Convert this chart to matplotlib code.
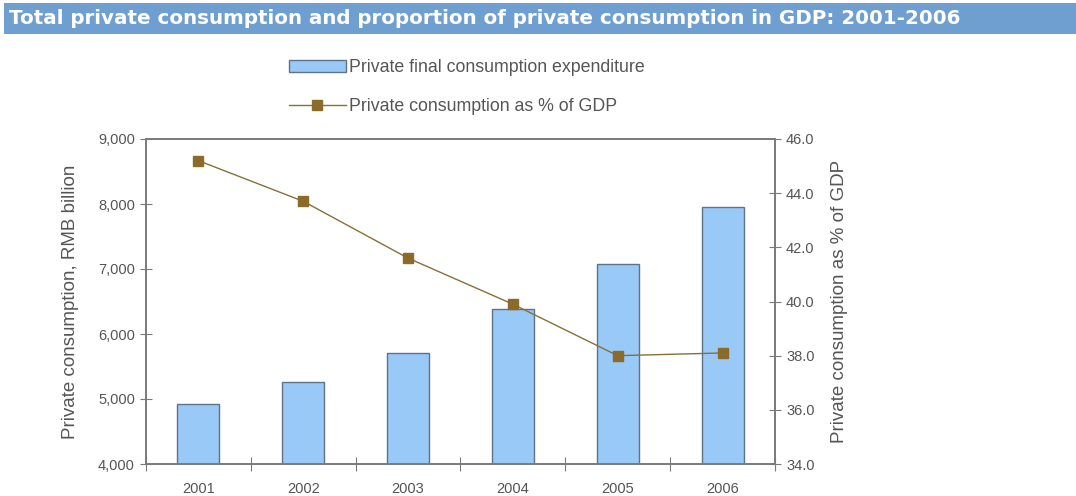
import matplotlib
matplotlib.use("Agg")
import matplotlib.pyplot as plt
from matplotlib.patches import Rectangle
from matplotlib.ticker import FuncFormatter, FixedLocator

years = ["2001", "2002", "2003", "2004", "2005", "2006"]
consumption = [4920, 5260, 5710, 6385, 7080, 7950]
share_gdp = [45.2, 43.7, 41.6, 39.9, 38.0, 38.1]

title = "Total private consumption and proportion of private consumption in GDP: 2001-2006"
bar_label = "Private final consumption expenditure"
line_label = "Private consumption as % of GDP"
ylabel_left = "Private consumption, RMB billion"
ylabel_right = "Private consumption as % of GDP"

plt.rcParams['font.family'] = ['Liberation Sans', 'DejaVu Sans']
txt = "#555555"
axc = "#7a7a7a"

fig = plt.figure(figsize=(10.76, 4.96), dpi=100)
W, H = 1076, 496

# title bar
fig.patches.append(Rectangle((4 / W, 1 - 34 / H), 1 - 4 / W, 31 / H, transform=fig.transFigure,
                             facecolor="#6f9fd0", edgecolor="none", zorder=0))
fig.text(9 / W, 1 - 19 / H, title, color="white", fontsize=14.3, fontweight="bold",
         family=["DejaVu Sans"], va="center", ha="left")

left, right, top, bottom = 146, 775, 139, 464
ax = fig.add_axes([left / W, 1 - bottom / H, (right - left) / W, (bottom - top) / H])
ax2 = ax.twinx()

x = list(range(len(years)))
bars = ax.bar(x, consumption, width=0.4, color="#99c9f7", edgecolor="#5f7287", linewidth=1.0,
              label=bar_label, zorder=2)
ln, = ax2.plot(x, share_gdp, color="#86703a", linewidth=1.0, marker="s", markersize=7,
               markerfacecolor="#8a6b2a", markeredgecolor="#8a6b2a", label=line_label, zorder=3)

ax.set_xlim(-0.5, 5.5)
ax.set_ylim(4000, 9000)
ax2.set_ylim(34, 46)
ax.set_yticks([4000, 5000, 6000, 7000, 8000, 9000])
ax2.set_yticks([34, 36, 38, 40, 42, 44, 46])
ax.yaxis.set_major_formatter(FuncFormatter(lambda v, p: f"{v:,.0f}"))
ax2.yaxis.set_major_formatter(FuncFormatter(lambda v, p: f"{v:.1f}"))

ax.set_xticks([i + 0.5 for i in range(-1, 6)])
ax.set_xticklabels([])
ax.xaxis.set_minor_locator(FixedLocator(x))
ax.set_xticklabels(years, minor=True)
ax.tick_params(axis="x", which="minor", length=0, pad=13, labelsize=10.5, labelcolor=txt)
ax.tick_params(axis="x", which="major", direction="inout", length=10, color=axc)

ax.tick_params(axis="y", direction="inout", length=8, color=axc, labelsize=10.5, labelcolor=txt, pad=4)
ax2.tick_params(axis="y", direction="inout", length=8, color=axc, labelsize=10.5, labelcolor=txt, pad=4)

for a in (ax, ax2):
    for s in a.spines.values():
        s.set_color(axc)
        s.set_linewidth(1.2)

ax.set_ylabel(ylabel_left, fontsize=13.5, color=txt, labelpad=14)
ax2.set_ylabel(ylabel_right, fontsize=13.5, color=txt, labelpad=12)

ax.set_zorder(ax2.get_zorder() - 1)
ax.patch.set_visible(True)
ax2.patch.set_visible(False)

fig.legend([bars, ln], [bar_label, line_label], loc="upper left",
           bbox_to_anchor=(273 / W, 1 - 43 / H), frameon=False, fontsize=12.8,
           labelcolor=txt, handlelength=3.2, handletextpad=0.2, labelspacing=1.25)

fig.savefig("out.png", dpi=100, facecolor="white")
